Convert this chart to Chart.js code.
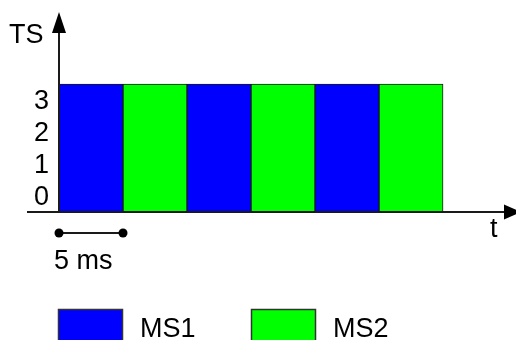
<!DOCTYPE html>
<html>
<head>
<meta charset="utf-8">
<script src="https://cdn.jsdelivr.net/npm/chart.js@4/dist/chart.umd.min.js"></script>
<style>
  html, body { margin: 0; padding: 0; background: #fff; }
  #wrap { width: 516px; height: 340px; }
</style>
</head>
<body>
<div id="wrap"><canvas id="c" width="516" height="340"></canvas></div>
<script>
// ---- data ----
const frameStartsMs = [0, 5, 10, 15, 20, 25];
const frameOwners   = ['MS1', 'MS2', 'MS1', 'MS2', 'MS1', 'MS2'];
const frameLengthMs = 5;
const seriesNames   = ['MS1', 'MS2'];
const seriesColors  = ['#0000FF', '#00FF00'];
const tsTicks       = [0, 1, 2, 3];
const tsBandLow     = -0.5;
const tsBandHigh    = 3.5;
const yAxisMax      = 5.75;
const xAxisMaxMs    = 35.7;
const scaleBarLabel = '5 ms';
const yAxisTitle    = 'TS';
const xAxisTitle    = 't';

const FONT = '"Liberation Sans", Arial, sans-serif';

const datasets = seriesNames.map((name, si) => ({
  label: name,
  data: frameStartsMs
    .map((s, i) => ({ owner: frameOwners[i], x: s + frameLengthMs / 2, y: [tsBandLow, tsBandHigh] }))
    .filter(p => p.owner === name)
    .map(p => ({ x: p.x, y: p.y })),
  backgroundColor: seriesColors[si],
  borderColor: '#1a1a1a',
  borderWidth: 1,
  borderSkipped: false,
  barPercentage: 1,
  categoryPercentage: 1,
  grouped: false
}));

const decor = {
  id: 'decor',
  afterDraw(chart) {
    const ctx = chart.ctx;
    const x = chart.scales.x, y = chart.scales.y;
    const ox = x.getPixelForValue(0);
    const oy = y.getPixelForValue(tsBandLow);
    ctx.save();
    ctx.strokeStyle = '#1a1a1a';
    ctx.fillStyle = '#000';
    ctx.lineWidth = 2;
    // x axis
    ctx.beginPath();
    ctx.moveTo(ox - 32, oy);
    ctx.lineTo(506, oy);
    ctx.stroke();
    ctx.beginPath();
    ctx.moveTo(521, oy);
    ctx.lineTo(504, oy - 7.5);
    ctx.lineTo(504, oy + 7.5);
    ctx.closePath();
    ctx.fill();
    // y axis
    ctx.beginPath();
    ctx.moveTo(ox, oy);
    ctx.lineTo(ox, 30);
    ctx.stroke();
    ctx.beginPath();
    ctx.moveTo(ox, 12);
    ctx.lineTo(ox - 7, 33);
    ctx.lineTo(ox + 7, 33);
    ctx.closePath();
    ctx.fill();
    // titles
    ctx.font = '27px ' + FONT;
    ctx.textAlign = 'left';
    ctx.textBaseline = 'alphabetic';
    ctx.fillText(yAxisTitle, 9, 43);
    ctx.fillText(xAxisTitle, 490, 237);
    // scale bar
    const sx0 = x.getPixelForValue(0), sx1 = x.getPixelForValue(frameLengthMs);
    const sy = 233;
    ctx.lineWidth = 2;
    ctx.beginPath();
    ctx.moveTo(sx0, sy);
    ctx.lineTo(sx1, sy);
    ctx.stroke();
    [sx0, sx1].forEach(px => {
      ctx.beginPath();
      ctx.arc(px, sy, 4.5, 0, Math.PI * 2);
      ctx.fill();
    });
    ctx.fillText(scaleBarLabel, 54, 269);
    // legend
    const legendX = [58, 251];
    chart.data.datasets.forEach((ds, i) => {
      const bx = legendX[i];
      ctx.fillStyle = ds.backgroundColor;
      ctx.fillRect(bx, 309, 65, 40);
      ctx.strokeStyle = '#333';
      ctx.lineWidth = 1.5;
      ctx.strokeRect(bx + 0.5, 309.5, 64, 40);
      ctx.fillStyle = '#000';
      ctx.font = '27px ' + FONT;
      ctx.fillText(ds.label, bx + 82, 337);
    });
    ctx.restore();
  }
};

new Chart(document.getElementById('c'), {
  type: 'bar',
  data: { datasets },
  options: {
    responsive: false,
    animation: false,
    layout: { padding: { top: 12, right: 0, bottom: 128, left: 0 } },
    plugins: { legend: { display: false }, tooltip: { enabled: false } },
    scales: {
      x: {
        type: 'linear',
        min: 0,
        max: xAxisMaxMs,
        offset: false,
        display: false,
        afterBuildTicks: (s) => {
          s.ticks = frameStartsMs.concat([frameStartsMs[frameStartsMs.length - 1] + frameLengthMs]).map(v => ({ value: v }));
        }
      },
      y: {
        type: 'linear',
        min: tsBandLow,
        max: yAxisMax,
        grid: { display: false, drawTicks: false },
        border: { display: false },
        afterBuildTicks: (s) => { s.ticks = tsTicks.map(v => ({ value: v })); },
        afterFit: (s) => { s.width = 59; s.paddingTop = 0; s.paddingBottom = 0; },
        ticks: {
          padding: 10,
          labelOffset: 2,
          color: '#000',
          font: { size: 27, family: FONT },
          callback: (v) => String(v)
        }
      }
    }
  },
  plugins: [decor]
});
</script>
</body>
</html>
